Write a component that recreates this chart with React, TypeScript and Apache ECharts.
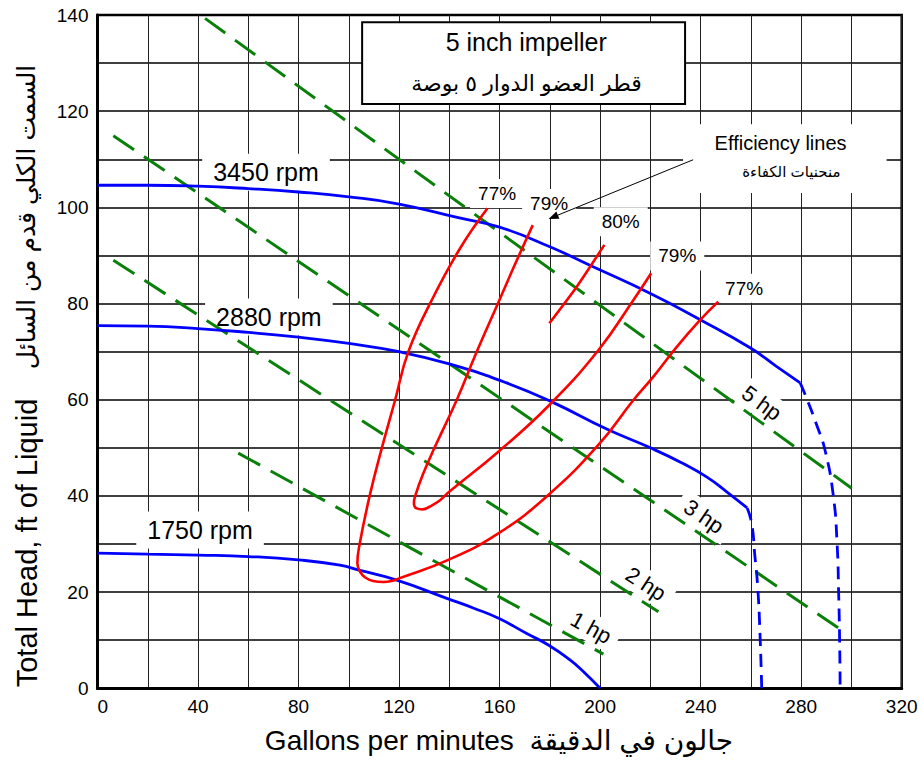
import React, { useEffect, useRef } from "react";
import * as echarts from "echarts";

// ---- data (gpm, ft) ----
const rpm3450: [number, number][] = [
  [0, 104.6], [20, 104.6], [40, 104.4], [60, 103.9], [80, 103.2], [100, 102.2],
  [120, 100.7], [144, 97.8], [160, 95.9], [180, 91.8], [197, 87.7], [220, 82.1],
  [240, 76.6], [260, 70.7], [270, 67.0], [279.6, 63.5],
];
const rpm3450Max: [number, number][] = [
  [279.6, 63.5], [282, 60.5], [286, 55], [289.5, 49.5], [292.8, 40], [294.3, 30],
  [294.9, 20], [295.3, 10], [295.5, 0],
];
const rpm2880: [number, number][] = [
  [0, 75.4], [20, 75.3], [40, 74.8], [60, 74.0], [80, 73.0], [100, 71.7], [120, 70.0],
  [140.3, 67.4], [162.8, 63.5], [181.4, 59.4], [202.6, 53.9], [220, 50.0], [232, 47.0],
  [242.5, 43.9], [250.5, 40.8], [258.5, 37.5],
];
const rpm2880Max: [number, number][] = [
  [258.5, 37.5], [260.3, 34.3], [261.6, 27.4], [262.7, 21.1], [263.6, 11.5], [264.3, 0],
];
const rpm1750: [number, number][] = [
  [0, 28.1], [20, 27.9], [40, 27.7], [60, 27.4], [80, 26.7], [96.5, 25.6], [104.5, 24.5],
  [119.1, 22.5], [139, 18.7], [150, 16.6], [159.8, 14.5], [170.8, 11.4], [179.4, 9.0],
  [188, 5.9], [193.3, 3.5], [200, 0],
];
const eff77: [number, number][] = [
  [155.2, 99.8], [144.3, 91.5], [133, 80.7], [123.7, 70], [118.4, 59.9], [113.1, 49.9],
  [108.2, 39.8], [104.2, 29.7], [103.4, 26.0], [104.5, 24.2], [106.4, 23.1], [109.7, 22.3],
  [113.7, 22.1], [117.7, 22.4], [119.7, 22.8], [139.6, 26.7], [159.5, 32.2], [179.4, 40.2],
  [199.3, 50.6], [213.2, 59.9], [221.2, 64.8], [230.5, 71.0], [239.1, 76.2], [247.0, 80.4],
];
const eff79: [number, number][] = [
  [173.2, 96.3], [166, 88], [159.9, 80.7], [150.9, 70], [142.9, 59.9], [134, 49.9],
  [129.5, 44.5], [126.3, 39.8], [125.9, 38.5], [127, 37.4], [129.4, 37.2], [132.3, 37.8],
  [136.3, 39.1], [139.6, 40.7], [159.5, 49.2], [179.4, 58.7], [199.3, 70.3], [213.2, 80.7],
  [220.3, 86.3],
];
const eff80: [number, number][] = [[179.8, 75.9], [190.7, 83.5], [201.7, 92.2]];
const hp5: [number, number][] = [[42.8, 139.3], [300.1, 41.6]];
const hp3: [number, number][] = [[6.3, 114.9], [296.1, 12.1]];
const hp2: [number, number][] = [[6.3, 89.0], [223.2, 15.9]];
const hp1: [number, number][] = [[56.0, 48.9], [201.3, 7.1]];

const rpmLabels = [
  { text: "3450 rpm", x: 67.05, y: 107.3 },
  { text: "2880 rpm", x: 68.2, y: 77.2 },
  { text: "1750 rpm", x: 40.8, y: 32.9 },
];
const effLabels = [
  { text: "77%", x: 159, y: 102.9 },
  { text: "79%", x: 179.7, y: 100.8 },
  { text: "80%", x: 208.2, y: 97.0 },
  { text: "79%", x: 230.7, y: 89.9 },
  { text: "77%", x: 257.3, y: 83.2 },
];
const hpLabels = [
  { text: "5 hp", x: 264.3, y: 59.3, angle: 36 },
  { text: "3 hp", x: 241.3, y: 35.7, angle: 34 },
  { text: "2 hp", x: 218.2, y: 21.7, angle: 33 },
  { text: "1 hp", x: 196.4, y: 12.6, angle: 29 },
];

const FONT = '"Liberation Sans", Arial, "DejaVu Sans", sans-serif';
const BLUE = "#0000ff";
const RED = "#ff0000";
const GREEN = "#0a800a";

export default function App() {
  const ref = useRef<HTMLDivElement>(null);
  useEffect(() => {
    if (!ref.current) return;
    const chart = echarts.init(ref.current, null, { renderer: "svg" });
    const line = (data: [number, number][], color: string, width: number, dashed?: number[], smooth = 0.5) => ({
      type: "line",
      data,
      smooth,
      symbol: "none",
      silent: true,
      lineStyle: { color, width, type: dashed ? dashed : "solid", cap: "butt" },
      z: 3,
    });
    chart.setOption({
      animation: false,
      grid: {
        left: 97.5, right: 20.3, top: 15, bottom: 71.7,
        show: true, borderColor: "#000", borderWidth: 2.5, backgroundColor: "#fff",
      },
      xAxis: {
        type: "value", min: 0, max: 320, interval: 40,
        axisLine: { show: true, onZero: false, lineStyle: { color: "#000", width: 3 } },
        axisTick: { show: false },
        axisLabel: { color: "#000", fontSize: 19, fontFamily: FONT, margin: 9, alignMinLabel: "left" },
        splitLine: { show: true, lineStyle: { color: "#222", width: 1 } },
        minorTick: { show: false, splitNumber: 2 },
        minorSplitLine: { show: true, lineStyle: { color: "#222", width: 1 } },
      },
      yAxis: {
        type: "value", min: 0, max: 140, interval: 20,
        axisLine: { show: true, onZero: false, lineStyle: { color: "#000", width: 3 } },
        axisTick: { show: false },
        axisLabel: { color: "#000", fontSize: 19, fontFamily: FONT, margin: 9 },
        splitLine: { show: true, lineStyle: { color: "#000", width: 1.7 } },
        minorTick: { show: false, splitNumber: 2 },
        minorSplitLine: { show: true, lineStyle: { color: "#000", width: 1.7 } },
      },
      series: [
        line(hp5, GREEN, 3, [25, 12], 0),
        line(hp3, GREEN, 3, [25, 12], 0),
        line(hp2, GREEN, 3, [25, 12], 0),
        line(hp1, GREEN, 3, [25, 12], 0),
        line(rpm3450, BLUE, 2.8),
        line(rpm3450Max, BLUE, 2.8, [13, 8]),
        line(rpm2880, BLUE, 2.8),
        line(rpm2880Max, BLUE, 2.8, [13, 8]),
        line(rpm1750, BLUE, 2.8),
        line(eff77, RED, 2.6, undefined, 0.45),
        line(eff79, RED, 2.6, undefined, 0.45),
        line(eff80, RED, 2.6, undefined, 0.2),
      ],
    });

    const px = (x: number, y: number) => chart.convertToPixel({ gridIndex: 0 }, [x, y]) as number[];
    const g: any[] = [];
    const label = (text: string, x: number, y: number, size: number, pad: number[], rotDeg = 0) => {
      const p = px(x, y);
      g.push({
        type: "text", x: p[0], y: p[1], rotation: (-rotDeg * Math.PI) / 180, z: 1, silent: true,
        style: {
          text, align: "center", verticalAlign: "middle", fill: "#000",
          font: `${size}px ${FONT}`, backgroundColor: "#fff", padding: pad,
        },
      });
    };
    rpmLabels.forEach((l) => label(l.text, l.x, l.y, 25, [6, 11]));
    effLabels.forEach((l) => label(l.text, l.x, l.y, 19, [5, 8]));
    hpLabels.forEach((l) => label(l.text, l.x, l.y, 22, [3, 8], l.angle));

    // title box
    const t1 = px(105.3, 138.5), t2 = px(233.8, 121.5);
    g.push({
      type: "rect", z: 1, silent: true,
      shape: { x: t1[0], y: t1[1], width: t2[0] - t1[0], height: t2[1] - t1[1] },
      style: { fill: "#fff", stroke: "#000", lineWidth: 2 },
    });
    const tc1 = px(170.6, 134.4), tc2 = px(170.7, 125.8);
    g.push({ type: "text", x: tc1[0], y: tc1[1], z: 2, silent: true,
      style: { text: "5 inch impeller", align: "center", verticalAlign: "middle", fill: "#000", font: `25px ${FONT}` } });
    g.push({ type: "text", x: tc2[0], y: tc2[1], z: 2, silent: true,
      style: { text: "قطر العضو الدوار ٥ بوصة", align: "center", verticalAlign: "middle", fill: "#000", font: `22px ${FONT}` } });

    // efficiency box
    const e1 = px(233, 117.3), e2 = px(314, 103);
    g.push({
      type: "rect", z: 1, silent: true,
      shape: { x: e1[0], y: e1[1], width: e2[0] - e1[0], height: e2[1] - e1[1] },
      style: { fill: "#fff" },
    });
    const ec1 = px(271.8, 113.4), ec2 = px(276.1, 107.5);
    g.push({ type: "text", x: ec1[0], y: ec1[1], z: 2, silent: true,
      style: { text: "Efficiency lines", align: "center", verticalAlign: "middle", fill: "#000", font: `20px ${FONT}` } });
    g.push({ type: "text", x: ec2[0], y: ec2[1], z: 2, silent: true,
      style: { text: "منحنيات الكفاءة", align: "center", verticalAlign: "middle", fill: "#000", font: `15px ${FONT}` } });

    // arrow
    const a1 = px(237, 109.9), a2 = px(179.5, 97.6);
    const dx = a2[0] - a1[0], dy = a2[1] - a1[1];
    const len = Math.hypot(dx, dy);
    const ux = dx / len, uy = dy / len;
    const hl = 10, hw = 4;
    const base = [a2[0] - ux * hl, a2[1] - uy * hl];
    g.push({ type: "line", z: 5, silent: true,
      shape: { x1: a1[0], y1: a1[1], x2: base[0], y2: base[1] }, style: { stroke: "#000", lineWidth: 1 } });
    g.push({ type: "polygon", z: 5, silent: true,
      shape: { points: [a2, [base[0] - uy * hw, base[1] + ux * hw], [base[0] + uy * hw, base[1] - ux * hw]] },
      style: { fill: "#000" } });

    // axis names
    g.push({ type: "text", x: 499, y: 740, z: 2, silent: true,
      style: { text: "Gallons per minutes  جالون في الدقيقة", align: "center", verticalAlign: "middle", fill: "#000", font: `28px ${FONT}` } });
    g.push({ type: "text", x: 27, y: 543, rotation: Math.PI / 2, z: 2, silent: true,
      style: { text: "Total Head, ft of Liquid", align: "center", verticalAlign: "middle", fill: "#000", font: `29px ${FONT}` } });
    g.push({ type: "text", x: 26, y: 217, rotation: Math.PI / 2, z: 2, silent: true,
      style: { text: "السمت الكلي قدم من السائل", align: "center", verticalAlign: "middle", fill: "#000", font: `25px ${FONT}` } });

    chart.setOption({ graphic: g });
    return () => chart.dispose();
  }, []);
  return <div ref={ref} style={{ position: "absolute", left: 0, top: 0, width: 922, height: 760 }} />;
}
